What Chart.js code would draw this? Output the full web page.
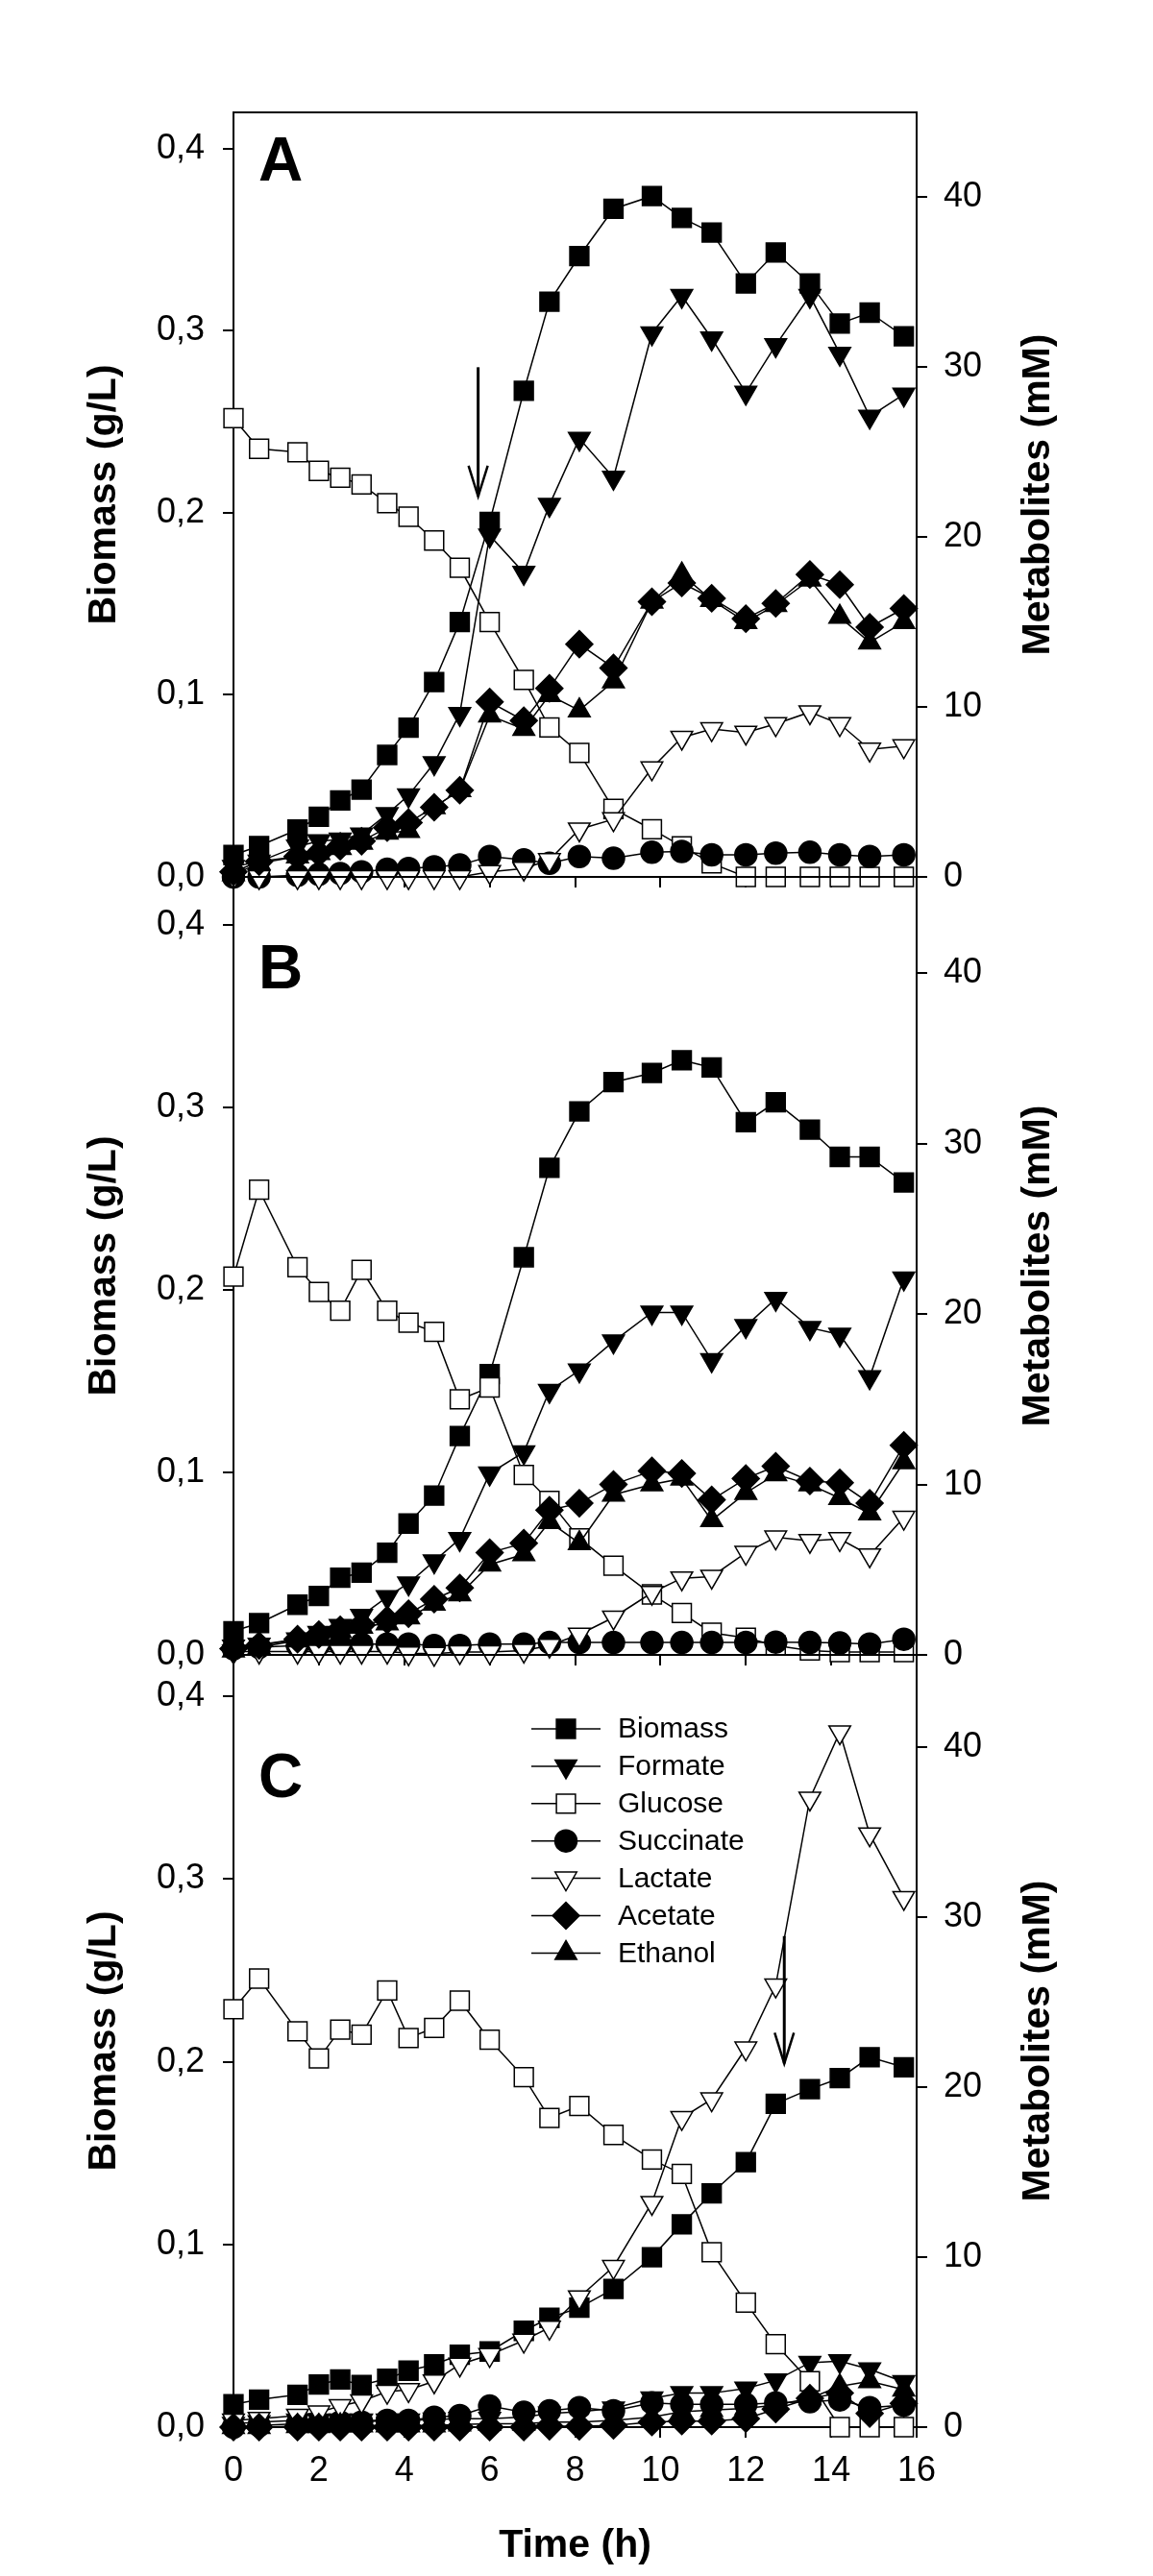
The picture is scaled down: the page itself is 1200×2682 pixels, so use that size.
<!DOCTYPE html>
<html>
<head>
<meta charset="utf-8">
<title>Biomass and metabolites</title>
<script src="https://cdn.jsdelivr.net/npm/chart.js@4.4.1/dist/chart.umd.min.js"></script>
<style>
  html, body { margin: 0; padding: 0; background: #fff; }
  #wrap { position: relative; width: 1200px; height: 2682px; }
  #wrap canvas { position: absolute; left: 0; }
</style>
</head>
<body>
<div id="wrap">
  <canvas id="panelA" width="1200" height="940" style="top:0px"></canvas>
  <canvas id="panelB" width="1200" height="860" style="top:890px"></canvas>
  <canvas id="panelC" width="1200" height="982" style="top:1700px"></canvas>
</div>
<script>
// sampling times (h), shared by the three runs
const timeH = [0, 0.6, 1.5, 2, 2.5, 3, 3.6, 4.1, 4.7, 5.3, 6, 6.8, 7.4, 8.1, 8.9, 9.8, 10.5, 11.2, 12, 12.7, 13.5, 14.2, 14.9, 15.7];

const seriesNames = ['Biomass', 'Formate', 'Glucose', 'Succinate', 'Lactate', 'Acetate', 'Ethanol'];

const timeTicks = [0, 2, 4, 6, 8, 10, 12, 14, 16];
const timeTickLabels = ['0', '2', '4', '6', '8', '10', '12', '14', '16'];
const biomassTicks = [0, 0.1, 0.2, 0.3, 0.4];
const biomassTickLabels = ['0,0', '0,1', '0,2', '0,3', '0,4'];
const metaboliteTicks = [0, 10, 20, 30, 40];
const metaboliteTickLabels = ['0', '10', '20', '30', '40'];

// panel A  (biomass g/L, the rest mM)
const biomassA   = [0.012, 0.017, 0.026, 0.033, 0.042, 0.048, 0.067, 0.082, 0.107, 0.140, 0.195, 0.267, 0.316, 0.341, 0.367, 0.374, 0.362, 0.354, 0.326, 0.343, 0.326, 0.304, 0.310, 0.297];
const formateA   = [0.6, 0.9, 1.8, 2.1, 2.2, 2.5, 3.7, 4.8, 6.7, 9.6, 20.1, 17.9, 21.9, 25.8, 23.5, 32.0, 34.2, 31.7, 28.5, 31.3, 34.2, 30.8, 27.1, 28.4];
const glucoseA   = [27.0, 25.2, 25.0, 23.9, 23.5, 23.1, 22.0, 21.2, 19.8, 18.2, 15.0, 11.6, 8.8, 7.3, 4.0, 2.8, 1.8, 0.8, 0, 0, 0, 0, 0, 0];
const succinateA = [0, 0, 0.1, 0.15, 0.2, 0.3, 0.45, 0.5, 0.6, 0.7, 1.2, 1.0, 0.8, 1.2, 1.1, 1.45, 1.5, 1.3, 1.3, 1.4, 1.45, 1.3, 1.2, 1.3];
const lactateA   = [0, 0, 0, 0, 0, 0, 0, 0, 0, 0, 0.3, 0.5, 1.0, 2.8, 3.4, 6.4, 8.2, 8.7, 8.5, 9.0, 9.7, 9.0, 7.5, 7.7];
const acetateA   = [0.3, 0.9, 1.2, 1.4, 1.8, 2.1, 2.9, 3.2, 4.1, 5.1, 10.3, 9.2, 11.1, 13.7, 12.3, 16.2, 17.3, 16.4, 15.2, 16.1, 17.8, 17.2, 14.7, 15.8];
const ethanolA   = [0.15, 0.8, 1.2, 1.4, 1.7, 2.0, 2.6, 2.7, 4.1, 5.1, 9.5, 8.7, 10.7, 9.8, 11.5, 16.2, 17.8, 16.3, 15.0, 16.0, 17.5, 15.3, 13.8, 15.0];

// panel B
const biomassB   = [0.013, 0.0174, 0.0275, 0.0323, 0.0423, 0.0451, 0.056, 0.072, 0.0873, 0.120, 0.154, 0.218, 0.267, 0.298, 0.314, 0.319, 0.326, 0.322, 0.292, 0.303, 0.288, 0.273, 0.273, 0.259];
const formateB   = [0.5, 0.6, 0.92, 1.3, 1.7, 2.3, 3.4, 4.2, 5.5, 6.8, 10.65, 11.9, 15.5, 16.7, 18.4, 20.1, 20.1, 17.3, 19.3, 20.9, 19.2, 18.8, 16.3, 22.1];
const glucoseB   = [22.2, 27.3, 22.75, 21.3, 20.2, 22.6, 20.2, 19.5, 18.96, 15.0, 15.7, 10.56, 9.04, 6.84, 5.24, 3.55, 2.46, 1.3, 1.0, 0.55, 0.26, 0.17, 0.17, 0.17];
const succinateB = [0.36, 0.45, 0.55, 0.6, 0.6, 0.64, 0.64, 0.64, 0.55, 0.55, 0.64, 0.64, 0.73, 0.73, 0.73, 0.73, 0.73, 0.73, 0.73, 0.75, 0.73, 0.7, 0.64, 0.92];
const lactateB   = [0.2, 0.2, 0.2, 0.2, 0.2, 0.2, 0.2, 0.1, 0.07, 0.17, 0.17, 0.26, 0.55, 1.2, 2.2, 3.65, 4.5, 4.6, 6.0, 6.9, 6.7, 6.8, 5.85, 8.06];
const acetateB   = [0.36, 0.55, 0.92, 1.2, 1.48, 1.76, 2.05, 2.42, 3.27, 3.93, 6.0, 6.56, 8.5, 8.9, 10.0, 10.8, 10.65, 9.1, 10.35, 11.07, 10.2, 10.1, 8.9, 12.3];
const ethanolB   = [0.25, 0.45, 0.85, 1.1, 1.4, 1.65, 1.85, 2.2, 3.0, 3.55, 5.3, 5.9, 7.8, 6.56, 9.4, 10.0, 10.35, 7.9, 9.5, 10.6, 10.0, 9.2, 8.3, 11.3];

// panel C
const biomassC   = [0.0125, 0.0151, 0.0177, 0.0233, 0.0261, 0.023, 0.0265, 0.0309, 0.0343, 0.0396, 0.0414, 0.0527, 0.0598, 0.0654, 0.0756, 0.093, 0.111, 0.128, 0.145, 0.177, 0.185, 0.191, 0.2025, 0.197];
const formateC   = [0.2, 0.3, 0.4, 0.4, 0.4, 0.4, 0.4, 0.4, 0.45, 0.5, 0.5, 0.6, 0.8, 0.9, 1.1, 1.7, 2.0, 2.0, 2.28, 2.75, 3.79, 3.88, 3.41, 2.66];
const glucoseC   = [24.6, 26.4, 23.3, 21.7, 23.4, 23.1, 25.7, 22.9, 23.5, 25.1, 22.8, 20.6, 18.2, 18.9, 17.2, 15.75, 14.9, 10.3, 7.33, 4.88, 2.7, 0, 0, 0];
const succinateC = [0, 0.1, 0.2, 0.2, 0.3, 0.3, 0.4, 0.4, 0.58, 0.68, 1.24, 0.87, 0.96, 1.15, 0.96, 1.43, 1.34, 1.34, 1.34, 1.43, 1.5, 1.6, 1.15, 1.3];
const lactateC   = [0.4, 0.5, 0.68, 0.87, 1.24, 1.53, 2.09, 2.19, 2.7, 3.69, 4.25, 5.1, 5.86, 7.65, 9.44, 13.2, 18.2, 19.3, 22.3, 26.0, 37.0, 40.9, 34.9, 31.15];
const acetateC   = [0, 0, 0, 0, 0, 0, 0, 0, 0, 0, 0, 0, 0.05, 0.05, 0.1, 0.3, 0.35, 0.35, 0.5, 1.06, 1.7, 2.0, 0.8, 1.4];
const ethanolC   = [0, 0, 0.05, 0.05, 0.1, 0.1, 0.1, 0.1, 0.1, 0.15, 0.2, 0.2, 0.3, 0.3, 0.4, 0.6, 0.9, 1.0, 1.1, 1.3, 1.7, 2.4, 2.7, 2.2];

// marker look for each series, same order as seriesNames
const markerStyles = [
  { style: 'rect',     rotation: 0,   radius: 14,   fill: '#000' },
  { style: 'triangle', rotation: 180, radius: 13,   fill: '#000' },
  { style: 'rect',     rotation: 0,   radius: 14,   fill: '#fff' },
  { style: 'circle',   rotation: 0,   radius: 11.5, fill: '#000' },
  { style: 'triangle', rotation: 180, radius: 13,   fill: '#fff' },
  { style: 'rectRot',  rotation: 0,   radius: 14,   fill: '#000' },
  { style: 'triangle', rotation: 0,   radius: 13,   fill: '#000' }
];

const FONT = '"Liberation Sans", Arial, Helvetica, sans-serif';
const tickFont = { family: FONT, size: 36 };
const titleFont = { family: FONT, size: 41, weight: 'bold' };

// frame, panel letter, arrow, legend and the right-hand title
const panelDecor = {
  id: 'panelDecor',
  beforeDatasetsDraw(chart, args, opts) {
    const { ctx, chartArea: a } = chart;
    ctx.save();
    ctx.strokeStyle = '#000';
    ctx.lineWidth = 2;
    ctx.strokeRect(a.left, a.top, a.right - a.left, a.bottom - a.top);
    ctx.restore();
  },
  afterDraw(chart, args, opts) {
    const { ctx, chartArea: a, scales } = chart;
    ctx.save();
    ctx.fillStyle = '#000';
    ctx.strokeStyle = '#000';

    // panel letter
    ctx.font = 'bold 64px ' + FONT;
    ctx.textAlign = 'left';
    ctx.textBaseline = 'middle';
    ctx.fillText(opts.letter, a.left + 26, a.top + opts.letterDy);

    // right axis title, reading bottom to top
    ctx.save();
    ctx.translate(1081, (a.top + a.bottom) / 2);
    ctx.rotate(-Math.PI / 2);
    ctx.font = 'bold 41px ' + FONT;
    ctx.textAlign = 'center';
    ctx.fillText('Metabolites (mM)', 0, 0);
    ctx.restore();

    // arrow
    if (opts.arrow) {
      const x = scales.x.getPixelForValue(opts.arrow.t);
      const y1 = scales.yMet.getPixelForValue(opts.arrow.from);
      const y2 = scales.yMet.getPixelForValue(opts.arrow.to);
      ctx.lineWidth = 3;
      ctx.beginPath();
      ctx.moveTo(x, y1);
      ctx.lineTo(x, y2);
      ctx.stroke();
      ctx.lineWidth = 2.5;
      ctx.beginPath();
      ctx.moveTo(x - 10, y2 - 32);
      ctx.lineTo(x, y2);
      ctx.lineTo(x + 10, y2 - 32);
      ctx.stroke();
    }

    // legend
    if (opts.legend) {
      ctx.font = '30px ' + FONT;
      ctx.textAlign = 'left';
      ctx.textBaseline = 'middle';
      seriesNames.forEach((name, i) => {
        const y = a.top + 77 + i * 38.9;
        const m = markerStyles[i];
        ctx.lineWidth = 1.5;
        ctx.strokeStyle = '#000';
        ctx.beginPath();
        ctx.moveTo(553, y);
        ctx.lineTo(625, y);
        ctx.stroke();
        ctx.fillStyle = m.fill;
        Chart.helpers.drawPoint(ctx, { pointStyle: m.style, radius: m.radius, rotation: m.rotation, borderWidth: 1.5 }, 589, y);
        ctx.fillStyle = '#000';
        ctx.fillText(name, 643, y + 1);
      });
    }
    ctx.restore();
  }
};

// y axes: fixed width, and no extra layout padding for the end labels
function fixYAxis(width) {
  return sc => {
    sc.width = width;
    sc.paddingTop = 0;
    sc.paddingBottom = 0;
  };
}

function buildPanel(canvasId, values, cfg) {
  const datasets = seriesNames.map((name, i) => ({
    label: name,
    data: timeH.map((t, k) => ({ x: t, y: values[i][k] })),
    yAxisID: i === 0 ? 'yBio' : 'yMet',
    borderColor: '#000',
    borderWidth: 1.5,
    pointStyle: markerStyles[i].style,
    pointRotation: markerStyles[i].rotation,
    pointRadius: markerStyles[i].radius,
    pointHoverRadius: markerStyles[i].radius,
    pointBackgroundColor: markerStyles[i].fill,
    pointBorderColor: '#000',
    pointBorderWidth: 1.5,
    fill: false,
    tension: 0,
    clip: false,
    order: seriesNames.length - i
  }));

  const tickGrid = {
    display: true, drawOnChartArea: false, drawTicks: true,
    tickLength: 11, lineWidth: 2, tickWidth: 2, color: '#000'
  };

  new Chart(document.getElementById(canvasId), {
    type: 'line',
    data: { datasets },
    plugins: [panelDecor],
    options: {
      responsive: false,
      animation: false,
      events: [],
      layout: { padding: { top: cfg.padTop, left: 0, right: 0, bottom: 0 } },
      plugins: {
        legend: { display: false },
        tooltip: { enabled: false },
        panelDecor: { letter: cfg.letter, letterDy: cfg.letterDy, arrow: cfg.arrow, legend: cfg.legend }
      },
      scales: {
        x: {
          type: 'linear', min: 0, max: 16,
          afterBuildTicks: sc => { sc.ticks = timeTicks.map(v => ({ value: v })); },
          afterFit: sc => { sc.height = cfg.xHeight; },
          grid: tickGrid,
          border: { display: false },
          ticks: {
            display: cfg.showX, padding: 13, font: tickFont, color: '#000',
            autoSkip: false, maxRotation: 0,
            callback: (v, i) => timeTickLabels[i]
          },
          title: {
            display: cfg.showX, text: 'Time (h)', font: titleFont, color: '#000',
            padding: { top: 0, bottom: 7 }
          }
        },
        yBio: {
          type: 'linear', position: 'left', min: 0, max: cfg.bioMax,
          afterBuildTicks: sc => { sc.ticks = biomassTicks.map(v => ({ value: v })); },
          afterFit: fixYAxis(243),
          grid: tickGrid,
          border: { display: false },
          ticks: { padding: 19, font: tickFont, color: '#000', callback: (v, i) => biomassTickLabels[i] },
          title: {
            display: true, text: 'Biomass (g/L)', font: titleFont, color: '#000',
            padding: { top: 84, bottom: 0 }
          }
        },
        yMet: {
          type: 'linear', position: 'right', min: 0, max: cfg.metMax,
          afterBuildTicks: sc => { sc.ticks = metaboliteTicks.map(v => ({ value: v })); },
          afterFit: fixYAxis(246),
          grid: tickGrid,
          border: { display: false },
          ticks: { padding: 17, font: tickFont, color: '#000', callback: (v, i) => metaboliteTickLabels[i] }
        }
      }
    }
  });
}

buildPanel('panelA',
  [biomassA, formateA, glucoseA, succinateA, lactateA, acetateA, ethanolA],
  { padTop: 117, xHeight: 27, bioMax: 0.42, metMax: 45.0, showX: false,
    letter: 'A', letterDy: 53, arrow: { t: 5.73, from: 30.0, to: 22.4 }, legend: false });

buildPanel('panelB',
  [biomassB, formateB, glucoseB, succinateB, lactateB, acetateB, ethanolB],
  { padTop: 23, xHeight: 27, bioMax: 0.4265, metMax: 45.66, showX: false,
    letter: 'B', letterDy: 98, arrow: null, legend: false });

buildPanel('panelC',
  [biomassC, formateC, glucoseC, succinateC, lactateC, acetateC, ethanolC],
  { padTop: 23, xHeight: 155, bioMax: 0.4227, metMax: 45.45, showX: true,
    letter: 'C', letterDy: 130, arrow: { t: 12.9, from: 28.9, to: 21.4 }, legend: true });
</script>
</body>
</html>
